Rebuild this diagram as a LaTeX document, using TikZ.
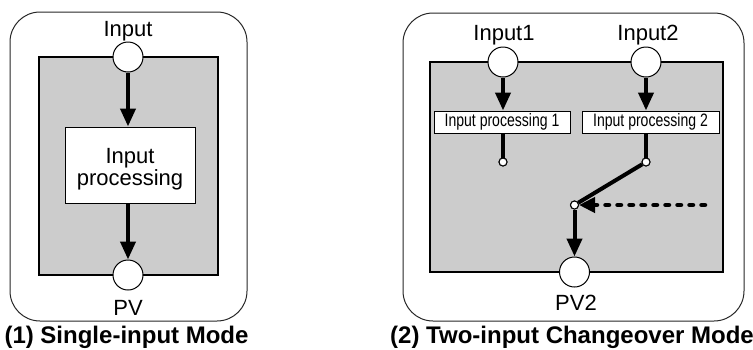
\documentclass[tikz,border=0pt]{standalone}
\usepackage{fontspec}
\setmainfont{Liberation Sans}
\newfontfamily\narrowfont[FakeStretch=0.78]{Liberation Sans}
\usetikzlibrary{arrows.meta}
\definecolor{panelgray}{RGB}{204,204,204}
\begin{document}
\begin{tikzpicture}[x=1pt,y=-1pt,
  frame/.style={draw=black!85, line width=1pt, rounded corners=30pt},
  panel/.style={draw=black, fill=panelgray, line width=1.2pt},
  port/.style={circle, draw, fill=white, minimum size=30pt, inner sep=0pt, line width=1pt},
  dot/.style={circle, draw, fill=white, minimum size=8pt, inner sep=0pt, line width=1pt},
  lbl/.style={font=\fontsize{22}{22}\selectfont, inner sep=0pt, anchor=base},
  procbox/.style={draw, fill=white, line width=1pt},
  proctext/.style={font=\fontsize{22}{22}\selectfont, align=center, inner sep=0pt, anchor=base},
  smallbox/.style={draw, fill=white, line width=1pt, font=\narrowfont\fontsize{18}{20}\selectfont, inner sep=0pt},
  caption/.style={font=\bfseries\fontsize{24}{28}\selectfont, anchor=base, inner sep=0pt},
  flow/.style={line width=4pt, -{Triangle[length=18pt,width=15pt]}},
  wire/.style={line width=4pt},
  ctrl/.style={line width=4.5pt, line cap=round, dash pattern=on 3.5pt off 8.5pt, -{Triangle[length=16pt,width=15pt]}}
]
\useasboundingbox (0,0) rectangle (753,349);

% ---------- (1) Single-input Mode ----------
\draw[frame] (10,12) rectangle (247,321);
\draw[panel] (39,57) rectangle (218,275);
\node[procbox, minimum width=130pt, minimum height=76pt] (proc) at (130,165) {};
\node[proctext] (proct1) at (130,163) {Input};
\node[proctext] (proct2) at (130,185) {processing};
\node[port] (in) at (128,57) {};
\node[port] (pv) at (128,275) {};
\node[lbl] (inlbl) at (128,36) {Input};
\node[lbl] (pvlbl) at (128,315) {PV};
\draw[flow] (in) -- (in |- proc.north);
\draw[flow] (proc.south -| pv) -- (pv);
\node[caption] (cap1) at (126.5,343.5) {(1) Single-input Mode};

% ---------- (2) Two-input Changeover Mode ----------
\draw[frame] (403,13) rectangle (744,321);
\draw[panel] (430,62) rectangle (723,272);
\node[smallbox, minimum width=136pt, minimum height=22pt] (p1) at (502,122) {Input processing 1};
\node[smallbox, minimum width=137pt, minimum height=22pt] (p2) at (650.5,122) {Input processing 2};
\node[port] (in1) at (503,62) {};
\node[port] (in2) at (646,62) {};
\node[port] (pv2) at (574.5,272) {};
\node[lbl] (in1lbl) at (504,40.7) {Input1};
\node[lbl] (in2lbl) at (648,40.7) {Input2};
\node[lbl] (pv2lbl) at (576,310) {PV2};
\draw[flow] (in1) -- (in1 |- p1.north);
\draw[flow] (in2) -- (in2 |- p2.north);
\node[dot] (d1) at (503,162) {};
\node[dot] (d2) at (646,162) {};
\node[dot] (sw) at (574.5,205) {};
\draw[wire] (p1.south -| d1) -- (d1);
\draw[wire] (p2.south -| d2) -- (d2);
\draw[wire] (d2) -- (sw);
\draw[flow] (sw) -- (pv2);
\coordinate (ctl) at (705,205);
\draw[ctrl] (ctl) -- (sw);
\node[dot] at (sw) {};
\node[dot] at (d1) {};
\node[dot] at (d2) {};
\node[caption] (cap2) at (572,343.5) {(2) Two-input Changeover Mode};
\end{tikzpicture}
\end{document}
